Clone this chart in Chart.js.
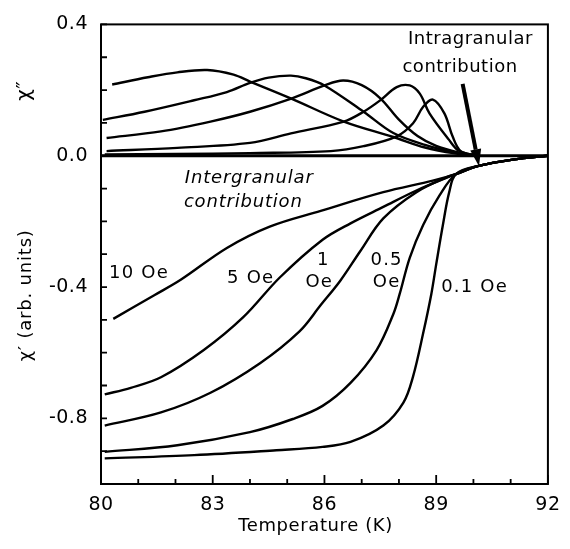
<!DOCTYPE html>
<html><head><meta charset="utf-8">
<script src="https://cdn.jsdelivr.net/npm/chart.js@4.4.1/dist/chart.umd.min.js"></script>
<style>html,body{margin:0;padding:0;background:#fff;}</style>
</head><body>
<canvas id="c" width="570" height="549"></canvas>
<script>
// ---- axis ticks ----
const xTicks = [80, 83, 86, 89, 92];
const xMinor = [81, 82, 84, 85, 87, 88, 90, 91];
const yTicks = [0.4, 0.0, -0.4, -0.8];
const yMinor = [0.3, 0.2, 0.1, -0.1, -0.2, -0.3, -0.5, -0.6, -0.7, -0.9];

// ---- chi'' (imaginary part) ----
const imag10T = [80.3, 81.26, 82.05, 82.85, 83.56, 84.0, 85.11, 86.52, 87.85, 88.7, 89.5, 90.1];
const imag10V = [0.217, 0.239, 0.254, 0.261, 0.247, 0.226, 0.174, 0.104, 0.057, 0.025, 0.007, 0.0];
const imag5T = [80.05, 81.17, 82.5, 83.38, 84.0, 84.5, 85.1, 85.5, 86.0, 87.05, 87.85, 88.7, 89.5, 90.1];
const imag5V = [0.109, 0.134, 0.169, 0.194, 0.222, 0.238, 0.244, 0.236, 0.214, 0.134, 0.069, 0.033, 0.01, 0.0];
const imag1T = [80.15, 81.61, 82.94, 84.0, 85.11, 86.0, 86.5, 87.0, 87.5, 88.0, 88.5, 89.0, 89.6, 90.1];
const imag1V = [0.054, 0.074, 0.104, 0.134, 0.174, 0.214, 0.229, 0.215, 0.175, 0.11, 0.06, 0.03, 0.01, 0.0];
const imag05T = [80.15, 82.05, 84.0, 85.1, 86.52, 87.05, 87.5, 87.94, 88.29, 88.56, 88.82, 89.34, 89.61, 90.1];
const imag05V = [0.014, 0.024, 0.039, 0.068, 0.104, 0.134, 0.169, 0.209, 0.214, 0.189, 0.129, 0.049, 0.015, 0.0];
const imag01T = [80.1, 82.0, 84.0, 86.17, 87.05, 87.94, 88.38, 88.65, 88.91, 89.22, 89.44, 89.66, 90.1];
const imag01V = [0.004, 0.005, 0.008, 0.014, 0.029, 0.059, 0.099, 0.149, 0.171, 0.129, 0.059, 0.014, 0.0];
const zeroT = [80, 92];
const zeroV = [0, 0];

// ---- chi' (real part) ----
const real10T = [80.33, 81.43, 82.14, 83.38, 84.53, 85.9, 87.58, 88.91, 89.53, 90.14, 91.1, 92];
const real10V = [-0.497, -0.425, -0.378, -0.281, -0.216, -0.168, -0.111, -0.076, -0.056, -0.031, -0.011, 0.0];
const real5T = [80.1, 80.8, 81.61, 82.76, 83.82, 84.8, 85.95, 86.7, 87.58, 88.47, 89.35, 89.53, 90.14, 91.1, 92];
const real5V = [-0.727, -0.707, -0.675, -0.592, -0.492, -0.371, -0.256, -0.206, -0.156, -0.106, -0.064, -0.056, -0.031, -0.011, 0.0];
const real1T = [80.1, 81.61, 82.94, 84.27, 85.33, 85.9, 86.43, 86.96, 87.58, 88.47, 89.35, 89.53, 90.14, 91.1, 92];
const real1V = [-0.822, -0.782, -0.722, -0.632, -0.535, -0.455, -0.38, -0.291, -0.191, -0.111, -0.062, -0.056, -0.031, -0.011, 0.0];
const real05T = [80.1, 82.05, 84.0, 85.15, 85.95, 86.7, 87.4, 87.85, 88.02, 88.29, 88.65, 89.09, 89.53, 90.14, 91.1, 92];
const real05V = [-0.902, -0.882, -0.842, -0.802, -0.762, -0.692, -0.592, -0.482, -0.421, -0.311, -0.211, -0.121, -0.056, -0.031, -0.011, 0.0];
const real01T = [80.1, 82.5, 84.71, 85.95, 86.7, 87.58, 88.12, 88.38, 88.65, 88.87, 89.0, 89.18, 89.35, 89.53, 90.14, 91.1, 92];
const real01V = [-0.922, -0.912, -0.897, -0.887, -0.872, -0.822, -0.752, -0.672, -0.541, -0.421, -0.331, -0.211, -0.111, -0.056, -0.031, -0.011, 0.0];

function pts(T, V) { return T.map((t, i) => ({ x: t, y: V[i] })); }
function ds(T, V, w) {
  return { data: pts(T, V), borderColor: '#000', borderWidth: w || 2.4, pointRadius: 0,
           fill: false, tension: 0.35, capBezierPoints: true };
}

const FONT = '"DejaVu Sans", sans-serif';

const deco = {
  id: 'deco',
  beforeDraw(c) { c.ctx.letterSpacing = '0.5px'; },
  afterDraw(c) {
    const { ctx, chartArea: a } = c;
    const xs = c.scales.x, ys = c.scales.y;
    ctx.save();
    ctx.letterSpacing = '0px';
    ctx.strokeStyle = '#000';
    ctx.fillStyle = '#000';
    ctx.lineWidth = 2;
    ctx.strokeRect(a.left, a.top, a.right - a.left, a.bottom - a.top);
    // inward tick marks
    ctx.lineWidth = 1.8;
    ctx.beginPath();
    xTicks.forEach(t => { const p = xs.getPixelForValue(t); ctx.moveTo(p, a.bottom); ctx.lineTo(p, a.bottom - 9); });
    xMinor.forEach(t => { const p = xs.getPixelForValue(t); ctx.moveTo(p, a.bottom); ctx.lineTo(p, a.bottom - 5); });
    yTicks.concat(yMinor).forEach(v => { const p = ys.getPixelForValue(v); ctx.moveTo(a.left, p); ctx.lineTo(a.left + 6, p); });
    ctx.stroke();

    // arrow to intragranular contribution
    const x1 = xs.getPixelForValue(89.71), y1 = ys.getPixelForValue(0.219);
    const x2 = xs.getPixelForValue(90.15), y2 = ys.getPixelForValue(-0.032);
    const ang = Math.atan2(y2 - y1, x2 - x1);
    const hl = 17, hw = 5.5;
    const bx = x2 - hl * Math.cos(ang), by = y2 - hl * Math.sin(ang);
    ctx.lineWidth = 4;
    ctx.beginPath(); ctx.moveTo(x1, y1); ctx.lineTo(bx, by); ctx.stroke();
    ctx.beginPath();
    ctx.moveTo(x2, y2);
    ctx.lineTo(bx + hw * Math.sin(ang), by - hw * Math.cos(ang));
    ctx.lineTo(bx - hw * Math.sin(ang), by + hw * Math.cos(ang));
    ctx.closePath(); ctx.fill();

    // texts
    ctx.textAlign = 'center';
    ctx.textBaseline = 'middle';
    function txt(s, T, V, size, sp, style) {
      ctx.font = (style || '') + ' ' + size + 'px ' + FONT;
      ctx.letterSpacing = sp + 'px';
      ctx.fillText(s, xs.getPixelForValue(T), ys.getPixelForValue(V));
    }
    txt('Intragranular', 89.92, 0.355, 18, 0.5);
    txt('contribution', 89.64, 0.270, 18, 0.5);
    txt('Intergranular', 83.98, -0.068, 18, 0.8, 'italic');
    txt('contribution', 83.82, -0.143, 18, 0.8, 'italic');
    txt('10 Oe', 81.02, -0.359, 18, 1.2);
    txt('5 Oe', 84.02, -0.374, 18, 1.2);
    txt('1', 85.97, -0.318, 18, 1.2);
    txt('Oe', 85.86, -0.385, 18, 1.2);
    txt('0.5', 87.67, -0.318, 18, 1.2);
    txt('Oe', 87.67, -0.385, 18, 1.2);
    txt('0.1 Oe', 90.03, -0.40, 18, 1.2);
    txt('Temperature (K)', 85.76, -1.128, 18, 0.6);

    // rotated y titles
    function rtxt(s, T, V, size, sp) {
      ctx.save();
      ctx.translate(xs.getPixelForValue(T), ys.getPixelForValue(V));
      ctx.rotate(-Math.PI / 2);
      ctx.font = size + 'px ' + FONT;
      ctx.letterSpacing = sp + 'px';
      ctx.fillText(s, 0, 0);
      ctx.restore();
    }
    rtxt('\u03C7\u2033', 77.96, 0.198, 20, 0.5);
    rtxt('\u03C7\u2032 (arb. units)', 78.0, -0.425, 18, 0.8);
    ctx.restore();
  }
};

new Chart(document.getElementById('c'), {
  type: 'line',
  data: {
    datasets: [
      ds(zeroT, zeroV, 3),
      ds(imag10T, imag10V), ds(imag5T, imag5V), ds(imag1T, imag1V), ds(imag05T, imag05V), ds(imag01T, imag01V),
      ds(real10T, real10V), ds(real5T, real5V), ds(real1T, real1V), ds(real05T, real05V), ds(real01T, real01V)
    ]
  },
  options: {
    responsive: false,
    animation: false,
    devicePixelRatio: 1,
    layout: { padding: { top: 20, right: 17, left: 0, bottom: 0 } },
    plugins: { legend: { display: false }, tooltip: { enabled: false } },
    scales: {
      x: {
        type: 'linear', min: 80, max: 92,
        afterBuildTicks: s => { s.ticks = xTicks.map(v => ({ value: v })); },
        afterFit: s => { s.height = 65; },
        grid: { display: false, drawTicks: false },
        border: { display: false },
        ticks: { color: '#000', padding: 10, maxRotation: 0, autoSkip: false,
                 font: { family: FONT, size: 19 }, callback: v => String(v) }
      },
      y: {
        type: 'linear', min: -1.0, max: 0.4,
        afterBuildTicks: s => { s.ticks = yTicks.map(v => ({ value: v })); },
        afterFit: s => { s.width = 101; },
        grid: { display: false, drawTicks: false },
        border: { display: false },
        ticks: { color: '#000', padding: 13, autoSkip: false,
                 font: { family: FONT, size: 19 }, callback: v => Number(v).toFixed(1) }
      }
    }
  },
  plugins: [deco]
});
</script>
</body></html>
